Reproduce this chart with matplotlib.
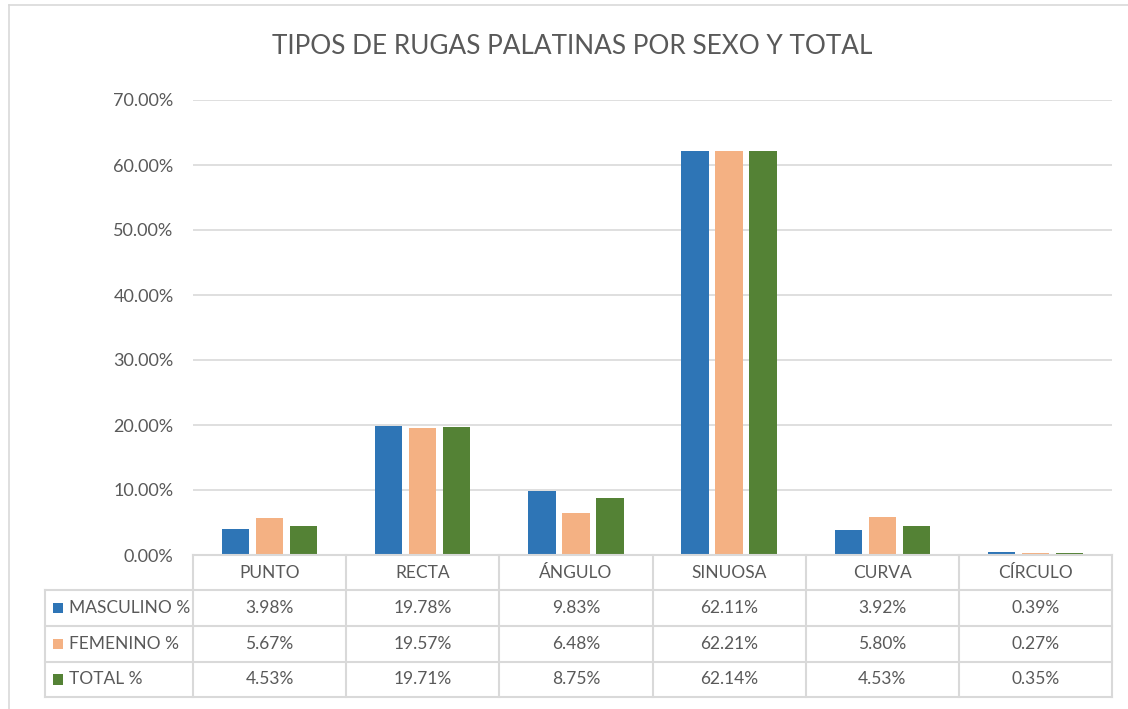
import matplotlib
matplotlib.use("Agg")

import matplotlib.pyplot as plt
from matplotlib.lines import Line2D
from matplotlib.patches import Rectangle

# --- data ---
categories = ["PUNTO", "RECTA", "ÁNGULO", "SINUOSA", "CURVA", "CÍRCULO"]
series_names = ["MASCULINO %", "FEMENINO %", "TOTAL %"]
masculino = [3.98, 19.78, 9.83, 62.11, 3.92, 0.39]
femenino = [5.67, 19.57, 6.48, 62.21, 5.80, 0.27]
total = [4.53, 19.71, 8.75, 62.14, 4.53, 0.35]
y_ticks = [0, 10, 20, 30, 40, 50, 60, 70]

series = [masculino, femenino, total]
colors = ["#2E75B6", "#F4B183", "#548235"]
grid_col = "#D9D9D9"
text_col = "#595959"

plt.rcParams["font.family"] = ["Lato", "DejaVu Sans"]

W, H = 1128, 709
fig = plt.figure(figsize=(W / 100, H / 100), dpi=100)


def fx(px):
    return px / W


def fy(py):
    return 1 - py / H


# chart area border (faint, as in the spreadsheet)
fig.add_artist(Line2D([fx(9), 1], [fy(5), fy(5)], color=grid_col, lw=1.2))
fig.add_artist(Line2D([fx(9), fx(9)], [fy(5), 0], color=grid_col, lw=1.2))

# --- main bar panel ---
left, right, top, bottom = 193, 1112, 100, 555
ax = fig.add_axes([fx(left), fy(bottom), fx(right - left), fy(top) - fy(bottom)])
n = len(categories)
bw = 0.178
step = 0.222
for i, (vals, col) in enumerate(zip(series, colors)):
    xs = [c + (i - 1) * step for c in range(n)]
    ax.bar(xs, vals, width=bw, color=col, edgecolor="none", zorder=3)

ax.set_xlim(-0.5, n - 0.5)
ax.set_ylim(0, 70)
ax.set_yticks(y_ticks)
ax.set_yticklabels([f"{v:.2f}%" for v in y_ticks], color=text_col, fontsize=13)
ax.tick_params(axis="y", length=0, pad=14)
ax.set_xticks([])
ax.grid(axis="y", color=grid_col, lw=1.2, zorder=0)
for s in ax.spines.values():
    s.set_visible(False)

fig.text(fx(572), fy(47), "TIPOS DE RUGAS PALATINAS POR SEXO Y TOTAL",
         ha="center", va="center", fontsize=18.8, color=text_col)

# --- data table below the plot ---
row_edges = [555, 590, 626, 662, 697]
col_w = (right - left) / n
tab_left = 45

def hline(py, x0):
    fig.add_artist(Line2D([fx(x0), fx(right)], [fy(py), fy(py)], color=grid_col, lw=1.5))

def vline(px, y0, y1):
    fig.add_artist(Line2D([fx(px), fx(px)], [fy(y0), fy(y1)], color=grid_col, lw=1.5))

hline(row_edges[0], left)
for py in row_edges[1:]:
    hline(py, tab_left)
vline(tab_left, row_edges[1], row_edges[-1])
for j in range(n + 1):
    vline(left + j * col_w, row_edges[0], row_edges[-1])

# category header
yc = (row_edges[0] + row_edges[1]) / 2
for j, cat in enumerate(categories):
    fig.text(fx(left + (j + 0.5) * col_w), fy(yc), cat, ha="center", va="center",
             fontsize=12.5, color=text_col)

# rows
for r, (name, vals, col) in enumerate(zip(series_names, series, colors)):
    yc = (row_edges[r + 1] + row_edges[r + 2]) / 2
    fig.add_artist(Rectangle((fx(53), fy(yc + 5)), fx(10), fy(yc - 5) - fy(yc + 5),
                             facecolor=col, edgecolor="none"))
    fig.text(fx(69), fy(yc), name, ha="left", va="center", fontsize=12.5, color=text_col)
    for j, v in enumerate(vals):
        fig.text(fx(left + (j + 0.5) * col_w), fy(yc), f"{v:.2f}%", ha="center",
                 va="center", fontsize=12.5, color=text_col)

fig.savefig("out.png", dpi=100, facecolor="white")
